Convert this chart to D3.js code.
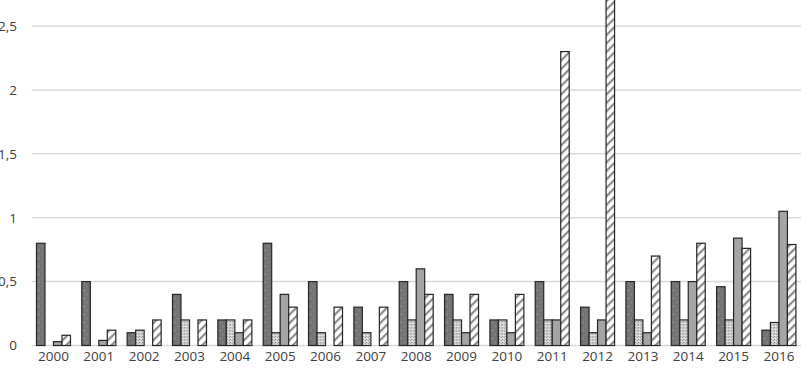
<!DOCTYPE html>
<html>
<head>
<meta charset="utf-8">
<script src="https://cdn.jsdelivr.net/npm/d3@7"></script>
<style>
html,body{margin:0;padding:0;background:#fff;overflow:hidden;}
svg{display:block;}
</style>
</head>
<body>
<svg id="chart" width="801" height="369"></svg>
<script>
const years = ["2000","2001","2002","2003","2004","2005","2006","2007","2008","2009","2010","2011","2012","2013","2014","2015","2016"];
const seriesA = [0.8,0.5,0.1,0.4,0.2,0.8,0.5,0.3,0.5,0.4,0.2,0.5,0.3,0.5,0.5,0.46,0.12];
const seriesB = [0,0,0.12,0.2,0.2,0.1,0.1,0.1,0.2,0.2,0.2,0.2,0.1,0.2,0.2,0.2,0.18];
const seriesC = [0.03,0.04,0,0,0.1,0.4,0,0,0.6,0.1,0.1,0.2,0.2,0.1,0.5,0.84,1.05];
const seriesD = [0.08,0.12,0.2,0.2,0.2,0.3,0.3,0.3,0.4,0.4,0.4,2.3,2.8,0.7,0.8,0.76,0.79];
const yTicks = [0,0.5,1,1.5,2,2.5];
const yTickLabels = ["0","0,5","1","1,5","2","2,5"];

const series = [
  {key:"A", values:seriesA, fill:"url(#patA)"},
  {key:"B", values:seriesB, fill:"url(#patB)"},
  {key:"C", values:seriesC, fill:"#a5a5a5"},
  {key:"D", values:seriesD, fill:"url(#patD)"}
];

const svg = d3.select("#chart");
const W = 801, H = 369;
const defs = svg.append("defs");

// Pattern A: dark gray with sparse light dots
const pA = defs.append("pattern").attr("id","patA").attr("patternUnits","userSpaceOnUse").attr("width",6).attr("height",8);
pA.append("rect").attr("width",6).attr("height",8).attr("fill","#747474");
pA.append("rect").attr("x",2).attr("y",2).attr("width",1).attr("height",1).attr("fill","#b0b0b0");
pA.append("rect").attr("x",5).attr("y",6).attr("width",1).attr("height",1).attr("fill","#9a9a9a");

// Pattern B: light gray speckled
const pB = defs.append("pattern").attr("id","patB").attr("patternUnits","userSpaceOnUse").attr("width",3).attr("height",3);
pB.append("rect").attr("width",3).attr("height",3).attr("fill","#d4d4d4");
pB.append("rect").attr("x",0).attr("y",0).attr("width",1).attr("height",1).attr("fill","#8a8a8a");
pB.append("rect").attr("x",2).attr("y",1).attr("width",1).attr("height",1).attr("fill","#a0a0a0");
pB.append("rect").attr("x",1).attr("y",2).attr("width",1).attr("height",1).attr("fill","#eeeeee");

// Pattern D: white with diagonal hatching
const pD = defs.append("pattern").attr("id","patD").attr("patternUnits","userSpaceOnUse").attr("width",6).attr("height",6).attr("patternTransform","rotate(45)");
pD.append("rect").attr("width",6).attr("height",6).attr("fill","#ffffff");
pD.append("rect").attr("x",0).attr("y",0).attr("width",2.2).attr("height",6).attr("fill","#8c8c8c");

const x = d3.scaleBand().domain(years).range([30.8, 801.6]).paddingInner(0).paddingOuter(0);
const y = d3.scaleLinear().domain([0, 2.5]).range([345.5, 26]);

const xi = d3.scaleBand().domain(series.map(s=>s.key)).range([0, 34]);
const groupOffset = (x.bandwidth() - 34) / 2;

// gridlines
const grid = svg.append("g");
grid.selectAll("line").data(yTicks).join("line")
  .attr("x1", 32).attr("x2", W)
  .attr("y1", d => y(d)).attr("y2", d => y(d))
  .attr("stroke", "#d9d9d9").attr("stroke-width", 1.5);

// y axis labels
const yAxis = d3.axisLeft(y).tickValues(yTicks).tickSize(0).tickPadding(0)
  .tickFormat((d,i) => yTickLabels[i]);
const ga = svg.append("g").attr("transform","translate(17,0)").call(yAxis);
ga.select(".domain").remove();
ga.selectAll("text").attr("font-family","'Open Sans', sans-serif").attr("font-size",13.5).attr("fill","#404040");

// x axis labels
const xAxis = d3.axisBottom(x).tickSize(0).tickPadding(0);
const gx = svg.append("g").attr("transform","translate(0,351)").call(xAxis);
gx.select(".domain").remove();
gx.selectAll("text").attr("font-family","'Open Sans', sans-serif").attr("font-size",13.5).attr("fill","#404040");

// bars
const groups = svg.append("g").selectAll("g").data(years).join("g")
  .attr("transform", d => `translate(${x(d) + groupOffset},0)`);

groups.selectAll("rect").data((d,i) => series.map(s => ({key:s.key, fill:s.fill, v:s.values[i]})).filter(e => e.v > 0))
  .join("rect")
  .attr("x", d => xi(d.key))
  .attr("width", xi.bandwidth())
  .attr("y", d => y(d.v))
  .attr("height", d => y(0) - y(d.v))
  .attr("fill", d => d.fill)
  .attr("stroke", "#262626")
  .attr("stroke-width", 1.2);
</script>
</body>
</html>
